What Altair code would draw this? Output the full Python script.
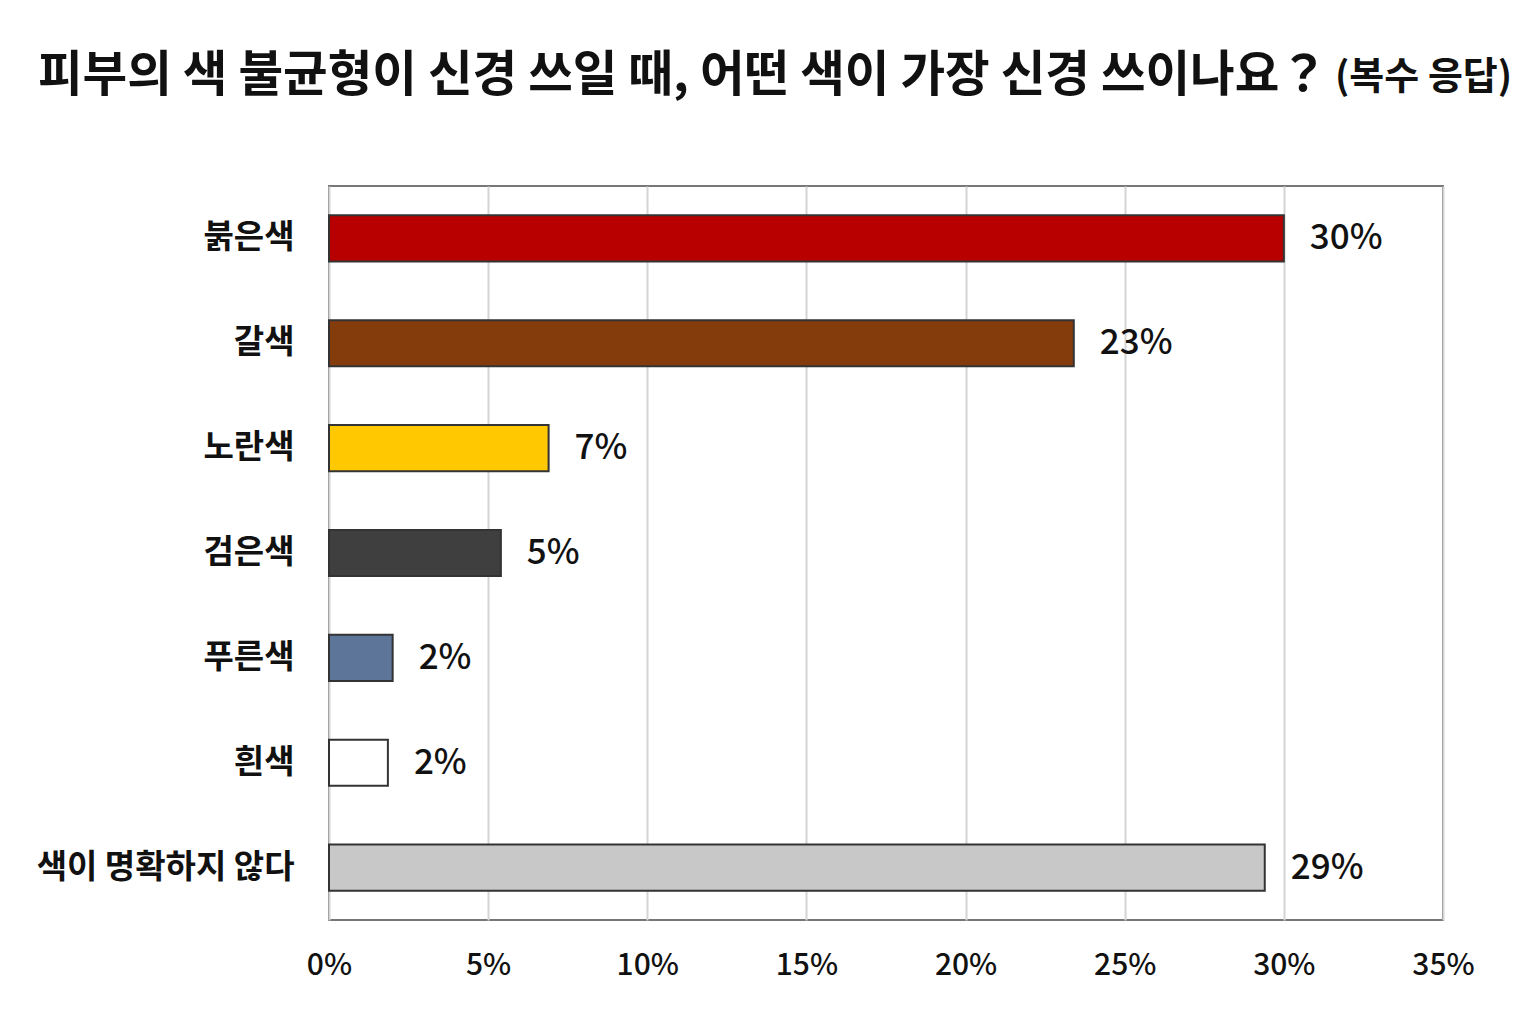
import altair as alt
import pandas as pd

categories = ["붉은색", "갈색", "노란색", "검은색", "푸른색", "흰색", "색이 명확하지 않다"]
values = [30.0, 23.4, 6.9, 5.4, 2.0, 1.85, 29.4]
value_labels = ["30%", "23%", "7%", "5%", "2%", "2%", "29%"]
bar_colors = ["#B80000", "#843C0C", "#FFC800", "#3F3F3F", "#5D7599", "#FFFFFF", "#C8C8C8"]
x_ticks = [0, 5, 10, 15, 20, 25, 30, 35]
title_main = "피부의 색 불균형이 신경 쓰일 때, 어떤 색이 가장 신경 쓰이나요？"
title_sub = "(복수 응답)"

FONT = "Noto Sans CJK KR"

df = pd.DataFrame({"category": categories, "value": values, "label": value_labels})

x_enc = alt.X("value:Q",
              scale=alt.Scale(domain=[0, 35], nice=False),
              axis=alt.Axis(values=x_ticks, labelExpr="datum.value + '%'", title=None,
                            grid=True, gridColor="#D4D4D4", gridWidth=2,
                            domain=False, ticks=False, labelPadding=30,
                            labelFlush=False, labelOverlap=False,
                            labelFontSize=30, labelFont=FONT, labelColor="#111",
                            labelFontWeight=500))
y_enc = alt.Y("category:N", sort=categories,
              scale=alt.Scale(paddingInner=0.56, paddingOuter=0.28),
              axis=alt.Axis(title=None, domain=False, ticks=False, labelPadding=35,
                            labelLimit=0,
                            labelFontSize=33, labelFont=FONT, labelFontWeight="bold",
                            labelColor="#111", grid=False))

bars = alt.Chart(df).mark_bar(stroke="#333333", strokeWidth=2).encode(
    x=x_enc,
    y=y_enc,
    color=alt.Color("category:N", scale=alt.Scale(domain=categories, range=bar_colors), legend=None),
)

texts = alt.Chart(df).mark_text(align="left", baseline="middle", dx=26, fontSize=35,
                                font=FONT, fontWeight=500, color="#111").encode(
    x="value:Q",
    y=alt.Y("category:N", sort=categories),
    text="label:N",
)

title1 = alt.Chart(pd.DataFrame({"t": [title_main]})).mark_text(
    align="left", baseline="alphabetic", fontSize=48.5, font=FONT, fontWeight="bold", color="#111"
).encode(x=alt.value(-291), y=alt.value(-95), text="t:N")

title2 = alt.Chart(pd.DataFrame({"t": [title_sub]})).mark_text(
    align="left", baseline="alphabetic", fontSize=38, font=FONT, fontWeight="bold", color="#111"
).encode(x=alt.value(1006), y=alt.value(-97), text="t:N")

chart = alt.layer(bars, texts, title1, title2).properties(
    width=1114, height=734,
    autosize=alt.AutoSizeParams(type="none"),
    padding={"left": 321, "top": 178, "right": 85, "bottom": 90},
    background="white",
).configure_view(stroke="#777777", strokeWidth=2)

chart.save("out.html", embed_options={"renderer": "svg", "actions": False})
